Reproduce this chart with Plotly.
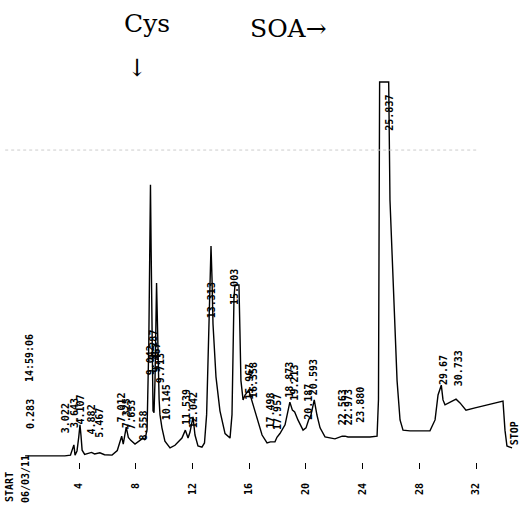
import plotly.graph_objects as go

# Detector trace: retention time (min) and signal (% of full scale)
time_min = [0.2, 3.0, 3.40, 3.52, 3.64, 3.72, 3.86, 3.98, 4.07, 4.14, 4.22, 4.40, 4.88, 5.10,
            5.47, 5.80, 6.33, 6.70, 6.85, 7.01, 7.12, 7.33, 7.48, 7.65, 7.95, 8.30, 8.51, 8.65,
            8.80, 8.92, 9.00, 9.04, 9.09, 9.15, 9.22, 9.29, 9.36, 9.47, 9.55, 9.65, 9.71, 9.85,
            10.06, 10.42, 10.77, 11.26, 11.50, 11.69, 11.83, 12.04, 12.18, 12.39, 12.67, 12.85,
            13.00, 13.15, 13.25, 13.31, 13.38, 13.45, 13.66, 13.94, 14.30, 14.65, 14.79, 14.86,
            14.93, 15.00, 15.28, 15.35, 15.42, 15.57, 15.71, 15.97, 16.20, 16.36, 16.63, 16.91,
            17.26, 17.50, 17.82, 17.96, 18.17, 18.53, 18.87, 19.05, 19.21, 19.44, 19.80, 20.01,
            20.19, 20.36, 20.59, 20.78, 21.00, 21.35, 22.05, 22.56, 22.76, 22.97, 23.46, 24.52,
            25.02, 25.12, 25.20, 25.84, 25.93, 26.14, 26.28, 26.43, 26.64, 26.85, 27.34, 28.75,
            29.11, 29.32, 29.55, 29.67, 29.81, 30.16, 30.59, 30.87, 31.29, 31.93, 32.98, 33.69,
            33.90, 34.04, 34.18, 34.54]
signal = [1.1, 1.1, 1.3, 2.5, 4.0, 1.3, 2.4, 6.0, 9.3, 6.5, 2.6, 1.5, 2.0, 1.6,
          1.9, 1.4, 1.3, 2.5, 4.5, 6.3, 4.2, 8.7, 6.0, 5.2, 4.2, 5.3, 5.8, 5.3,
          8.0, 30.0, 60.0, 72.8, 55.0, 25.0, 13.0, 12.5, 21.0, 46.8, 28.0, 16.0, 12.0, 8.5,
          5.0, 3.2, 3.9, 5.8, 7.9, 5.8, 7.4, 11.4, 6.6, 3.7, 3.4, 4.5,
          12.0, 35.0, 52.0, 56.6, 48.0, 36.0, 22.0, 13.0, 7.0, 5.8, 12.0, 30.0,
          43.0, 46.3, 46.3, 34.0, 21.0, 15.9, 17.2, 18.5, 15.5, 14.0, 10.6, 6.6,
          4.5, 4.8, 4.8, 6.0, 7.0, 9.3, 15.3, 13.2, 12.7, 10.6, 7.9, 8.5,
          10.6, 11.9, 15.9, 11.9, 8.5, 6.1, 5.6, 6.3, 6.3, 6.1, 6.1, 6.1,
          6.3, 16.0, 100.0, 100.0, 68.8, 47.0, 34.4, 21.0, 10.6, 7.9, 7.7, 7.7,
          10.6, 17.2, 19.8, 15.9, 14.6, 15.3, 16.1, 15.1, 13.2, 13.8, 14.8, 15.6,
          15.6, 7.9, 3.7, 3.2]

# Integrator peak labels: retention time text and the height where each label starts
peak_rt = ["3.022", "3.643", "4.107", "4.882", "5.467", "7.012", "7.325", "7.653", "8.558",
           "9.042", "9.287", "9.467", "9.713", "10.145", "11.539", "12.042", "13.313", "15.003",
           "15.967", "16.358", "17.498", "17.957", "18.873", "19.213", "20.187", "20.593",
           "22.563", "22.973", "23.880", "25.837", "29.67", "30.733"]
peak_label_level = [6.6, 7.9, 8.7, 6.1, 5.3, 9.3, 7.9, 7.4, 4.5,
                    22.0, 26.0, 22.5, 19.8, 10.0, 8.7, 7.9, 37.0, 40.5,
                    15.3, 15.9, 7.9, 7.4, 15.9, 15.1, 10.0, 16.7,
                    8.7, 8.7, 9.3, 86.5, 19.3, 19.0]

tick_minutes = [4, 8, 12, 16, 20, 24, 28, 32]
tick_text = [str(t) for t in tick_minutes]

full_scale_dots = 82.0

mono = "DejaVu Sans Mono"
serif = "DejaVu Serif"
print_font = dict(family=mono, size=10, color="black", weight="bold")

fig = go.Figure()
fig.add_trace(go.Scatter(
    x=time_min, y=signal, mode="lines",
    line=dict(color="black", width=1.4, shape="linear"),
    hoverinfo="skip", showlegend=False,
))

annotations = []
for rt, lvl in zip(peak_rt, peak_label_level):
    annotations.append(dict(
        x=float(rt), y=lvl, xref="x", yref="y", text=rt, textangle=-90,
        showarrow=False, xanchor="center", yanchor="bottom", font=print_font,
    ))

# Run header / footer printed by the integrator
header = [
    ("START", 10 / 520, -0.054),
    ("06/03/11", 25 / 520, -0.037),
    ("0.283", 31 / 520, 0.104),
    ("14:59:06", 29 / 520, 0.225),
]
for txt, xp, yp in header:
    annotations.append(dict(
        x=xp, y=yp, xref="paper", yref="paper", text=txt, textangle=-90,
        showarrow=False, xanchor="center", yanchor="middle", font=print_font,
    ))
annotations.append(dict(
    x=34.68, y=3.4, xref="x", yref="y", text="STOP", textangle=-90,
    showarrow=False, xanchor="center", yanchor="bottom", font=print_font,
))

# Compound markers
annotations += [
    dict(x=147 / 520, y=0.950, xref="paper", yref="paper", text="Cys",
         xanchor="center", yanchor="middle",
         showarrow=False, font=dict(family=serif, size=25, color="black")),
    dict(x=137 / 520, y=0.853, xref="paper", yref="paper", text="↓",
         xanchor="center", yanchor="middle",
         showarrow=False, font=dict(family=serif, size=24, color="black")),
    dict(x=288 / 520, y=0.939, xref="paper", yref="paper", text="SOA→",
         xanchor="center", yanchor="middle",
         showarrow=False, font=dict(family=serif, size=25, color="black")),
]

fig.add_shape(type="line", xref="paper", yref="y", x0=0.01, x1=0.92,
              y0=full_scale_dots, y1=full_scale_dots,
              line=dict(color="#cccccc", width=1, dash="dot"))

fig.update_layout(
    width=520, height=507,
    margin=dict(l=0, r=0, t=0, b=45),
    paper_bgcolor="white", plot_bgcolor="white",
    annotations=annotations,
    xaxis=dict(
        range=[-1.571, 35.10], showgrid=False, zeroline=False, showline=False,
        tickmode="array", tickvals=tick_minutes, ticktext=tick_text,
        ticks="outside", ticklen=6, tickwidth=1.3, tickcolor="black",
        tickangle=-90, ticklabelstandoff=10,
        tickfont=print_font,
    ),
    yaxis=dict(range=[-0.53, 121.7], visible=False),
)

fig.write_html("out.html")
